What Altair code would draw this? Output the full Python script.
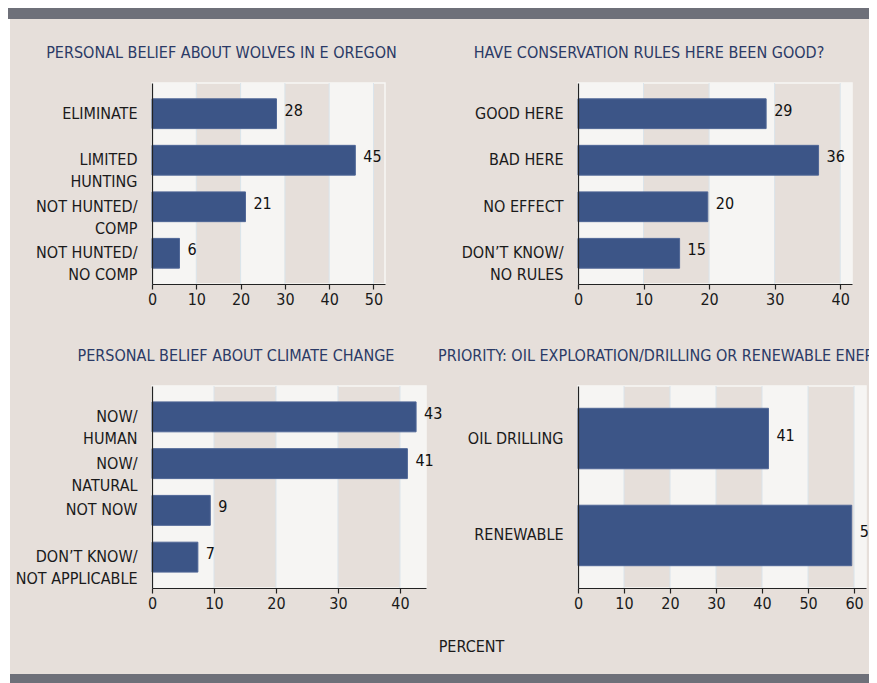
import altair as alt
import pandas as pd

FONT = "Liberation Sans Narrow, DejaVu Sans Condensed, Arial Narrow, sans-serif"
FS = 16
BEIGE = "#e6dfda"
LIGHT = "#f6f5f3"
GRAY = "#6e7079"
NAVY = "#2b3a66"
BAR = "#3c5587"
GRID = "#dae4eb"

# ---- data ----
wolves_title = "PERSONAL BELIEF ABOUT WOLVES IN E OREGON"
wolves_cats = ["ELIMINATE", "LIMITED|HUNTING", "NOT HUNTED/|COMP", "NOT HUNTED/|NO COMP"]
wolves_vals = [28.1, 45.9, 21.1, 6.2]
wolves_lbls = ["28", "45", "21", "6"]
wolves_ticks = [0, 10, 20, 30, 40, 50]

cons_title = "HAVE CONSERVATION RULES HERE BEEN GOOD?"
cons_cats = ["GOOD HERE", "BAD HERE", "NO EFFECT", "DON\u2019T KNOW/|NO RULES"]
cons_vals = [28.7, 36.7, 19.8, 15.5]
cons_lbls = ["29", "36", "20", "15"]
cons_ticks = [0, 10, 20, 30, 40]

clim_title = "PERSONAL BELIEF ABOUT CLIMATE CHANGE"
clim_cats = ["NOW/|HUMAN", "NOW/|NATURAL", "NOT NOW", "DON\u2019T KNOW/|NOT APPLICABLE"]
clim_vals = [42.6, 41.2, 9.4, 7.4]
clim_lbls = ["43", "41", "9", "7"]
clim_ticks = [0, 10, 20, 30, 40]

oil_title = "PRIORITY: OIL EXPLORATION/DRILLING OR RENEWABLE ENERGY"
oil_cats = ["OIL DRILLING", "RENEWABLE"]
oil_vals = [41.4, 59.5]
oil_lbls = ["41", "59"]
oil_ticks = [0, 10, 20, 30, 40, 50, 60]

x_title = "PERCENT"


def panel(cats, vals, lbls, ticks, xmax, w, h, pin, pout, title, tdx,
          anchor="middle", xtitle=None):
    df = pd.DataFrame({"cat": cats, "val": vals, "lbl": lbls})
    starts = ticks[::2]
    sdf = pd.DataFrame({"s": starts, "e": [min(s + 10, xmax) for s in starts]})
    gdf = pd.DataFrame({"t": ticks[1:]})
    xs = alt.Scale(domain=[0, xmax], nice=False, zero=True)
    ys = alt.Scale(domain=cats, paddingInner=pin, paddingOuter=pout)
    xaxis_kw = dict(values=ticks, tickSize=5, labelPadding=2, grid=False,
                    labelFlush=False, labelOverlap=False, zindex=1)
    if xtitle:
        xaxis_kw.update(title=xtitle, titleX=-107, titleY=58, titleAlign="center",
                        titleBaseline="middle", titleFont=FONT, titleFontSize=FS,
                        titleFontWeight="normal", titleColor="#1a1a1a")
    else:
        xaxis_kw.update(title=None)
    xaxis = alt.Axis(**xaxis_kw)
    yaxis = alt.Axis(title=None, ticks=False, tickSize=0, labelPadding=15,
                     labelExpr="split(datum.label, '|')", labelLineHeight=22,
                     labelLimit=400, grid=False, zindex=1)

    stripes = alt.Chart(sdf).mark_rect(color=LIGHT).encode(
        x=alt.X("s:Q", scale=xs, axis=xaxis), x2="e",
        y=alt.value(0), y2=alt.value(h))
    grid = alt.Chart(gdf).mark_rule(color=GRID, strokeWidth=1).encode(
        x=alt.X("t:Q", scale=xs, axis=xaxis))
    bars = alt.Chart(df).mark_bar(color=BAR, stroke="#4f6696", strokeWidth=1).encode(
        x=alt.X("val:Q", scale=xs, axis=xaxis),
        y=alt.Y("cat:N", scale=ys, sort=cats, axis=yaxis))
    text = alt.Chart(df).mark_text(align="left", baseline="middle", dx=8, dy=-3,
                                   font=FONT, fontSize=FS, color="#111111").encode(
        x=alt.X("val:Q", scale=xs, axis=xaxis),
        y=alt.Y("cat:N", scale=ys, sort=cats, axis=yaxis),
        text="lbl:N")
    return alt.layer(stripes, grid, bars, text).properties(
        width=w, height=h,
        title=alt.TitleParams(text=title, anchor=anchor, dx=tdx, offset=9,
                              baseline="alphabetic", font=FONT, fontSize=FS,
                              fontWeight="normal", color=NAVY, frame="group"))


p1 = panel(wolves_cats, wolves_vals, wolves_lbls, wolves_ticks, 52.6, 233, 201,
           0.36, 0.34, wolves_title, -47)
p2 = panel(cons_cats, cons_vals, cons_lbls, cons_ticks, 41.8, 274, 201,
           0.36, 0.34, cons_title, -66)
p3 = panel(clim_cats, clim_vals, clim_lbls, clim_ticks, 44.2, 274, 202,
           0.36, 0.34, clim_title, -53)
p4 = panel(oil_cats, oil_vals, oil_lbls, oil_ticks, 62.6, 288, 202,
           0.376, 0.23, oil_title, -140, anchor="start", xtitle=x_title)

grid4 = alt.concat(p1, p2, p3, p4, columns=2, spacing={"row": 102, "column": 152},
                   bounds="flush", align="each")

# backdrop: grey bars at top and bottom, beige panel between
one = pd.DataFrame({"k": [0]})
topbar = alt.Chart(one).mark_rect(color=GRAY).encode(
    x=alt.value(-144), x2=alt.value(717), y=alt.value(-74), y2=alt.value(-63))
panelbg = alt.Chart(one).mark_rect(color=BEIGE).encode(
    x=alt.value(-142), x2=alt.value(717), y=alt.value(-63), y2=alt.value(592))
botbar = alt.Chart(one).mark_rect(color=GRAY).encode(
    x=alt.value(-142), x2=alt.value(717), y=alt.value(592), y2=alt.value(601))
backdrop = alt.layer(topbar, panelbg, botbar).properties(
    width=1, height=1, view=alt.ViewBackground(stroke=None))

chart = alt.vconcat(backdrop, grid4, spacing=0, bounds="flush").properties(
    autosize=alt.AutoSizeParams(type="none"),
    padding={"left": 144, "top": 74, "right": 717, "bottom": 601},
    background="white",
).configure_view(stroke="#f8f7f5", strokeWidth=1.5, fill=None).configure_axis(
    labelFont=FONT, labelFontSize=FS, labelColor="#1a1a1a",
    domainColor="#222222", domainWidth=1.2, tickColor="#222222", tickWidth=1.2)

chart.save("out.html", embed_options={"renderer": "svg", "actions": False})
